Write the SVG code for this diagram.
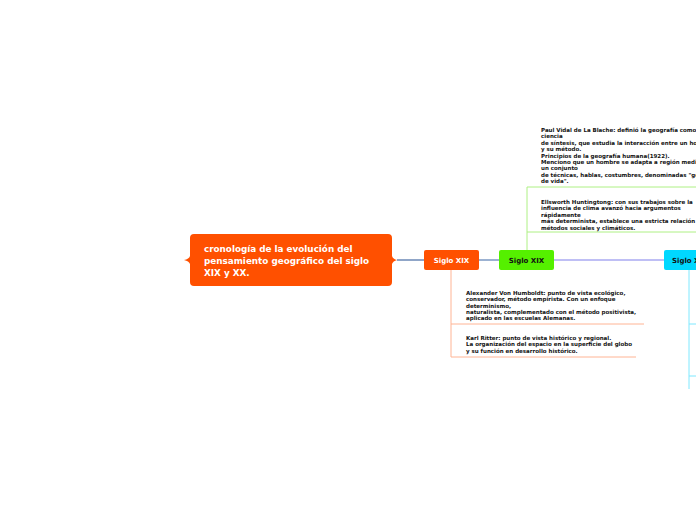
<svg xmlns="http://www.w3.org/2000/svg" width="696" height="520" viewBox="0 0 696 520">
<style>
.sub{font-family:"DejaVu Sans",Verdana,sans-serif;font-weight:bold;font-size:5.5px;fill:#111}
.nt{font-family:"DejaVu Sans",Verdana,sans-serif;font-weight:bold;font-size:7px}
.main{font-family:"DejaVu Sans",Verdana,sans-serif;font-weight:bold;font-size:8.8px;fill:#fff}
</style>
<rect width="696" height="520" fill="#fff"/>
<g id="connectors" fill="none">
<line x1="397" y1="260" x2="424" y2="260" stroke="#90a6c8" stroke-width="2"/>
<line x1="479" y1="260" x2="499" y2="260" stroke="#9cb2d2" stroke-width="2"/>
<line x1="554" y1="260" x2="664" y2="260" stroke="#aaaaf2" stroke-width="1.5"/>
<path d="M451 270 V357 M451 324 H644 M451 357 H636" stroke="#ffb494" stroke-width="1"/>
<path d="M527 250 V187 H696 M527 232 H696" stroke="#aef084" stroke-width="1"/>
<path d="M689 270 V389 M689 324 H696 M689 376 H696" stroke="#7ee8ff" stroke-width="1"/>
</g>
<g id="root">
<path d="M194 234 H388 Q392 234 392 238 V256 Q393 259 397 260 Q393 261 392 264 V282 Q392 286 388 286 H194 Q190 286 190 282 V264 Q189 261 184 260 Q189 259 190 256 V238 Q190 234 194 234 Z" fill="#ff5000"/>
<text class="main" x="204" y="252">cronología de la evolución del</text>
<text class="main" x="204" y="264">pensamiento geográfico del siglo</text>
<text class="main" x="204" y="276">XIX y XX.</text>
</g>
<g id="siglo19a">
<rect x="424" y="250" width="55" height="20" rx="2" fill="#ff5000"/>
<text class="nt" x="451.5" y="262.5" text-anchor="middle" fill="#fff">Siglo XIX</text>
</g>
<g id="siglo19b">
<rect x="499" y="250" width="55" height="20" rx="2" fill="#55f000"/>
<text class="nt" x="526.5" y="262.5" text-anchor="middle" fill="#111">Siglo XIX</text>
</g>
<g id="siglo20">
<rect x="664" y="250" width="50" height="20" rx="2" fill="#00d8ff"/>
<text class="nt" x="672" y="262.5" fill="#111">Siglo XX</text>
</g>
<g id="vidal">
<text class="sub" x="541" y="132">Paul Vidal de La Blache: definió la geografía como</text>
<text class="sub" x="541" y="138.4">ciencia</text>
<text class="sub" x="541" y="144.8">de síntesis, que estudia la interacción entre un hombre</text>
<text class="sub" x="541" y="151.2">y su método.</text>
<text class="sub" x="541" y="157.6">Principios de la geografía humana(1922).</text>
<text class="sub" x="541" y="164">Menciono que un hombre se adapta a región mediante</text>
<text class="sub" x="541" y="170.4">un conjunto</text>
<text class="sub" x="541" y="176.8">de técnicas, hablas, costumbres, denominadas "géneros</text>
<text class="sub" x="541" y="183.2">de vida".</text>
</g>
<g id="huntington">
<text class="sub" x="541" y="204">Ellsworth Huntingtong: con sus trabajos sobre la</text>
<text class="sub" x="541" y="210.4">influencia de clima avanzó hacia argumentos</text>
<text class="sub" x="541" y="216.8">rápidamente</text>
<text class="sub" x="541" y="223.2">más determinista, establece una estricta relación entre</text>
<text class="sub" x="541" y="229.6">métodos sociales y climáticos.</text>
</g>
<g id="humboldt">
<text class="sub" x="466" y="295">Alexander Von Humboldt: punto de vista ecológico,</text>
<text class="sub" x="466" y="301.3">conservador, método empirista. Con un enfoque</text>
<text class="sub" x="466" y="307.6">determinismo,</text>
<text class="sub" x="466" y="313.9">naturalista, complementado con el método positivista,</text>
<text class="sub" x="466" y="320.2">aplicado en las escuelas Alemanas.</text>
</g>
<g id="ritter">
<text class="sub" x="466" y="340">Karl Ritter: punto de vista histórico y regional.</text>
<text class="sub" x="466" y="346.3">La organización del espacio en la superficie del globo</text>
<text class="sub" x="466" y="352.6">y su función en desarrollo histórico.</text>
</g>
</svg>
